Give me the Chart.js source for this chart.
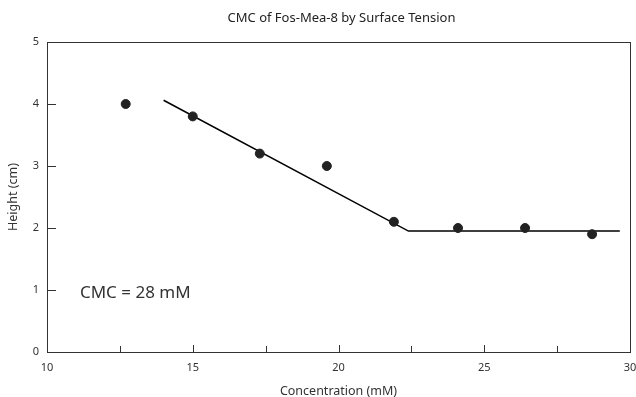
<!DOCTYPE html>
<html>
<head>
<meta charset="utf-8">
<script src="https://cdn.jsdelivr.net/npm/chart.js@4/dist/chart.umd.min.js"></script>
<style>
html,body{margin:0;padding:0;background:#fff;}
#wrap{width:636px;height:397px;position:relative;}
</style>
</head>
<body>
<div id="wrap"><canvas id="c" width="636" height="397"></canvas></div>
<script>
const concentration = [12.7, 15.0, 17.3, 19.6, 21.9, 24.1, 26.4, 28.7];
const height = [4.0, 3.8, 3.2, 3.0, 2.1, 2.0, 2.0, 1.9];
const fitX = [14.0, 22.4, 29.65];
const fitY = [4.06, 1.95, 1.95];
const xTicks = [10, 15, 20, 25, 30];
const xMinorTicks = [12.5, 17.5, 22.5, 27.5];
const yTicks = [0, 1, 2, 3, 4, 5];
const titleText = 'CMC of Fos-Mea-8 by Surface Tension';
const xTitle = 'Concentration (mM)';
const yTitle = 'Height (cm)';
const annotation = 'CMC = 28 mM';
const annotationPos = [11.13, 0.95];

const FONT = "'Noto Sans', sans-serif";

const framePlugin = {
  id: 'frame',
  afterDatasetsDraw(chart) {
    const {ctx, chartArea: a, scales: {x, y}} = chart;
    ctx.save();
    ctx.strokeStyle = '#333';
    ctx.lineWidth = 1;
    ctx.strokeRect(Math.round(a.left) + 0.5, Math.round(a.top) + 0.5, Math.round(a.right - a.left), Math.round(a.bottom - a.top));
    ctx.beginPath();
    xTicks.forEach(v => { const px = Math.round(x.getPixelForValue(v)) + 0.5; ctx.moveTo(px, a.bottom); ctx.lineTo(px, a.bottom - 7); });
    xMinorTicks.forEach(v => { const px = Math.round(x.getPixelForValue(v)) + 0.5; ctx.moveTo(px, a.bottom); ctx.lineTo(px, a.bottom - 6); });
    yTicks.forEach(v => { const py = Math.round(y.getPixelForValue(v)) + 0.5; ctx.moveTo(a.left, py); ctx.lineTo(a.left + 9, py); });
    ctx.stroke();
    ctx.fillStyle = '#333';
    ctx.font = '17px ' + FONT;
    ctx.textBaseline = 'middle';
    ctx.textAlign = 'left';
    ctx.fillText(annotation, x.getPixelForValue(annotationPos[0]), y.getPixelForValue(annotationPos[1]));
    ctx.fillStyle = '#222';
    ctx.font = '13px ' + FONT;
    ctx.textAlign = 'center';
    ctx.fillText(titleText, (a.left + a.right) / 2 + 3, 18);
    ctx.restore();
  }
};

new Chart(document.getElementById('c'), {
  type: 'scatter',
  data: {
    datasets: [
      {
        data: concentration.map((v, i) => ({x: v, y: height[i]})),
        backgroundColor: '#222',
        borderColor: '#222',
        pointRadius: 4.5,
        pointHoverRadius: 4.5,
        order: 1
      },
      {
        data: fitX.map((v, i) => ({x: v, y: fitY[i]})),
        showLine: true,
        borderColor: '#000',
        borderWidth: 1.5,
        pointRadius: 0,
        fill: false,
        order: 2
      }
    ]
  },
  options: {
    responsive: false,
    animation: false,
    events: [],
    layout: {padding: {left: 0, right: 6, top: 42, bottom: 0}},
    plugins: {
      legend: {display: false},
      tooltip: {enabled: false},
      title: {display: false}
    },
    scales: {
      x: {
        type: 'linear',
        min: 10, max: 30,
        afterBuildTicks: s => { s.ticks = xTicks.map(v => ({value: v})); },
        afterFit: s => { s.height = 45; s.paddingLeft = 0; s.paddingRight = 0; },
        grid: {display: false, drawTicks: false},
        border: {display: false},
        ticks: {color: '#333', font: {family: FONT, size: 11}, padding: 9, maxRotation: 0},
        title: {display: true, text: xTitle, color: '#333', font: {family: FONT, size: 12.5}, padding: {top: 4, bottom: -2}}
      },
      y: {
        type: 'linear',
        min: 0, max: 5,
        afterBuildTicks: s => { s.ticks = yTicks.map(v => ({value: v})); },
        afterFit: s => { s.width = 47; s.paddingTop = 0; s.paddingBottom = 0; },
        grid: {display: false, drawTicks: false},
        border: {display: false},
        ticks: {color: '#333', font: {family: FONT, size: 11}, padding: 8},
        title: {display: true, text: yTitle, color: '#333', font: {family: FONT, size: 12.5}, padding: {top: 6, bottom: 4}}
      }
    }
  },
  plugins: [framePlugin]
});
</script>
</body>
</html>
